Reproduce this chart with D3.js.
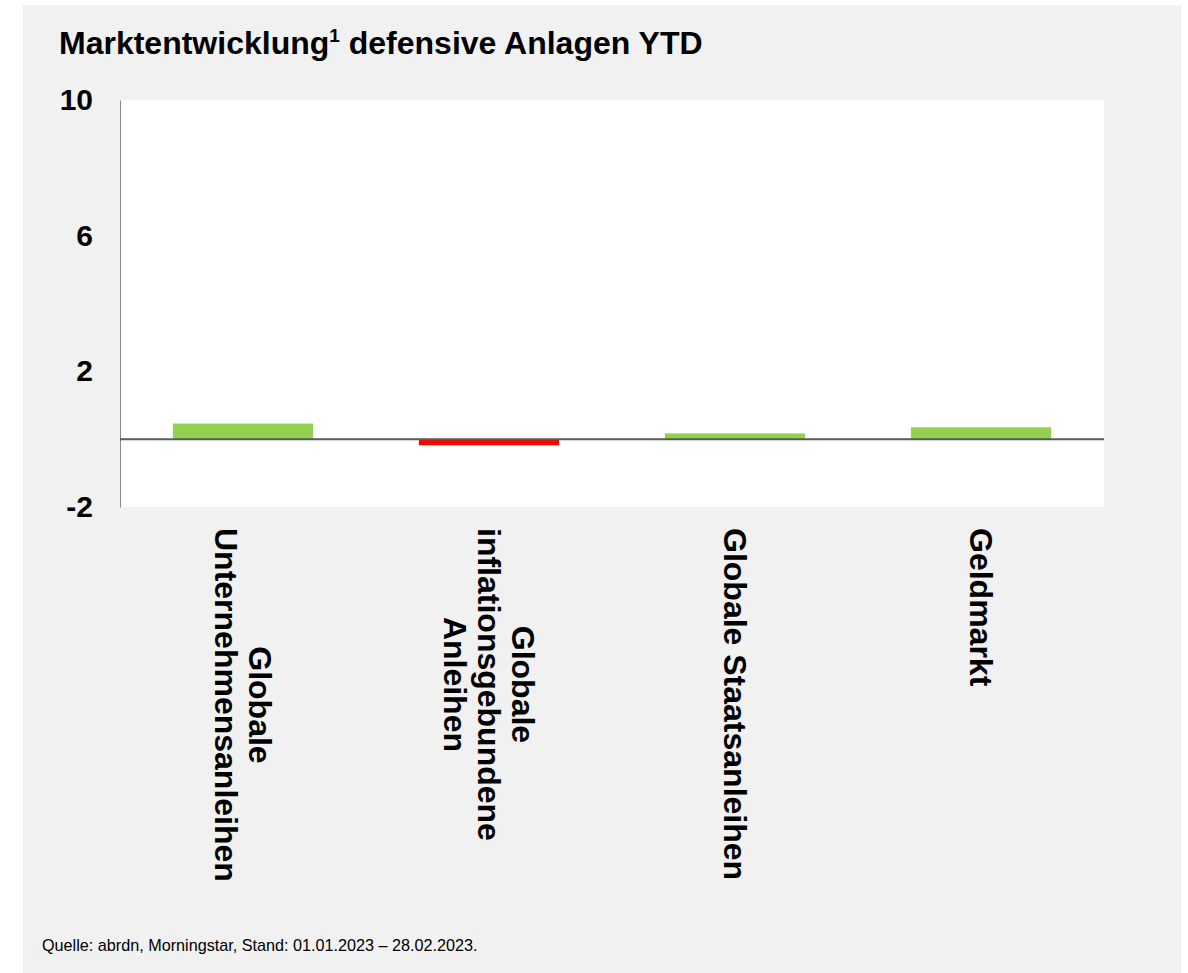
<!DOCTYPE html>
<html><head><meta charset="utf-8">
<script src="https://cdn.jsdelivr.net/npm/d3@7/dist/d3.min.js"></script>
<style>
html,body{margin:0;padding:0;background:#fff;}
svg{display:block;font-family:Arial,"Liberation Sans",sans-serif;}
</style></head>
<body>
<svg id="chart" width="1188" height="973"></svg>
<script>
const categories = [
  ["Globale", "Unternehmensanleihen"],
  ["Globale", "inflationsgebundene", "Anleihen"],
  ["Globale Staatsanleihen"],
  ["Geldmarkt"]
];
const values = [0.46, -0.18, 0.17, 0.35];
const tickValues = [-2, 2, 6, 10];
const tickLabels = ["-2", "2", "6", "10"];
const titleMain = "Marktentwicklung";
const titleSup = "1";
const titleRest = " defensive Anlagen YTD";
const source = "Quelle: abrdn, Morningstar, Stand: 01.01.2023 – 28.02.2023.";

const svg = d3.select("#chart");
svg.append("rect").attr("x",23).attr("y",5).attr("width",1158).attr("height",968).attr("fill","#f1f1f1");

const plot = {left:120, right:1104, top:100, bottom:507};
const x = d3.scaleBand().domain(d3.range(categories.length)).range([plot.left, plot.right]).paddingInner(0.43).paddingOuter(0.215);
const y = d3.scaleLinear().domain([-2, 10]).range([plot.bottom, plot.top]);

svg.append("rect").attr("x",plot.left).attr("y",plot.top).attr("width",plot.right-plot.left).attr("height",plot.bottom-plot.top).attr("fill","#fff");

// title
const t = svg.append("text").attr("x",59).attr("y",54).attr("font-size",32).attr("font-weight","bold").attr("fill","#000");
t.append("tspan").text(titleMain);
t.append("tspan").text(titleSup).attr("font-size",19).attr("dy",-12);
t.append("tspan").text(titleRest).attr("dy",12);

// y axis
const yAxis = d3.axisLeft(y).tickValues(tickValues).tickSize(0).tickPadding(27)
  .tickFormat((d,i)=>tickLabels[tickValues.indexOf(d)]);
const ga = svg.append("g").attr("transform",`translate(${plot.left},0)`).call(yAxis);
ga.select(".domain").attr("stroke","#898989").attr("stroke-width",1);
ga.selectAll("text").attr("font-size",30).attr("font-weight","bold").attr("fill","#000").attr("font-family","Arial,'Liberation Sans',sans-serif");

// bars
svg.append("g").selectAll("rect").data(values).join("rect")
  .attr("x",(d,i)=>x(i)).attr("width",x.bandwidth())
  .attr("y",d=>y(Math.max(0,d))).attr("height",d=>Math.abs(y(d)-y(0)))
  .attr("fill",d=>d>=0?"#92d050":"#ff0000");

// zero line
svg.append("line").attr("x1",plot.left).attr("x2",plot.right).attr("y1",y(0)).attr("y2",y(0)).attr("stroke","#595959").attr("stroke-width",2);

// category labels rotated
const lineH = 34;
const fs = 32;
categories.forEach((lines,i)=>{
  const cx = x(i)+x.bandwidth()/2;
  const g = svg.append("g").attr("transform",`translate(${cx},528) rotate(90)`);
  const n = lines.length;
  const tmp = g.append("text").attr("font-size",fs).attr("font-weight","bold");
  let maxW = 0;
  lines.forEach(l=>{tmp.text(l); maxW=Math.max(maxW,tmp.node().getComputedTextLength());});
  tmp.remove();
  lines.forEach((l,j)=>{
    g.append("text").attr("x",maxW/2).attr("y",(j-(n-1)/2)*lineH).attr("dy","0.35em")
      .attr("text-anchor","middle").attr("font-size",fs).attr("font-weight","bold").attr("fill","#000").text(l);
  });
});

// source
svg.append("text").attr("x",42).attr("y",951).attr("font-size",16.2).attr("fill","#000").text(source);
</script>
</body></html>
